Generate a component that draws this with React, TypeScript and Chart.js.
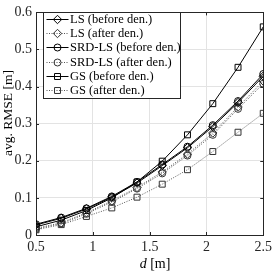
import React, { useEffect, useRef } from "react";
import { Chart, registerables } from "chart.js";

Chart.register(...registerables);

const dValues = [0.5, 0.722, 0.944, 1.167, 1.389, 1.611, 1.833, 2.056, 2.278, 2.5];
const lsBefore = [0.027, 0.045, 0.070, 0.102, 0.140, 0.187, 0.235, 0.292, 0.357, 0.428];
const lsAfter = [0.018, 0.033, 0.060, 0.092, 0.128, 0.170, 0.218, 0.275, 0.345, 0.415];
const srdBefore = [0.029, 0.047, 0.072, 0.104, 0.143, 0.190, 0.238, 0.296, 0.361, 0.434];
const srdAfter = [0.016, 0.031, 0.057, 0.089, 0.125, 0.166, 0.214, 0.270, 0.340, 0.408];
const gsBefore = [0.022, 0.040, 0.066, 0.100, 0.143, 0.199, 0.270, 0.354, 0.452, 0.561];
const gsAfter = [0.014, 0.028, 0.050, 0.073, 0.102, 0.137, 0.176, 0.225, 0.277, 0.328];
const seriesLabels = [
  "LS (before den.)",
  "LS (after den.)",
  "SRD-LS (before den.)",
  "SRD-LS (after den.)",
  "GS (before den.)",
  "GS (after den.)",
];
const xTicks = [0.5, 1, 1.5, 2, 2.5];
const yTicks = [0, 0.1, 0.2, 0.3, 0.4, 0.5, 0.6];

const FONT = "Liberation Serif";

function mk(label: string, data: number[], style: string, after: boolean) {
  return {
    label,
    data: data.map((v, i) => ({ x: dValues[i], y: v })),
    borderColor: after ? "#555" : "#000",
    borderWidth: 1,
    borderDash: after ? [1, 1.5] : [],
    pointStyle: style,
    pointRadius: style === "circle" ? 3.5 : 4.2,
    pointBorderColor: after ? "#333" : "#000",
    pointBackgroundColor: "rgba(0,0,0,0)",
    pointBorderWidth: 1,
    fill: false,
    tension: 0,
  };
}

function drawMarker(ctx: CanvasRenderingContext2D, style: string, r: number, x: number, y: number) {
  ctx.beginPath();
  if (style === "circle") {
    ctx.arc(x, y, r, 0, Math.PI * 2);
  } else if (style === "rect") {
    const s = r * Math.SQRT1_2;
    ctx.rect(x - s, y - s, 2 * s, 2 * s);
  } else {
    ctx.moveTo(x, y - r);
    ctx.lineTo(x + r, y);
    ctx.lineTo(x, y + r);
    ctx.lineTo(x - r, y);
    ctx.closePath();
  }
  ctx.stroke();
}

const framePlugin = {
  id: "frame",
  beforeDatasetsDraw(chart: any) {
    const { ctx, chartArea: a, scales } = chart;
    ctx.save();
    ctx.strokeStyle = "#262626";
    ctx.lineWidth = 1;
    const L = 3;
    xTicks.forEach((t) => {
      const x = Math.round(scales.x.getPixelForValue(t)) + 0.5;
      ctx.beginPath();
      ctx.moveTo(x, a.bottom);
      ctx.lineTo(x, a.bottom - L);
      ctx.moveTo(x, a.top);
      ctx.lineTo(x, a.top + L);
      ctx.stroke();
    });
    yTicks.forEach((t) => {
      const y = Math.round(scales.y.getPixelForValue(t)) + 0.5;
      ctx.beginPath();
      ctx.moveTo(a.left, y);
      ctx.lineTo(a.left + L, y);
      ctx.moveTo(a.right, y);
      ctx.lineTo(a.right - L, y);
      ctx.stroke();
    });
    ctx.strokeRect(Math.round(a.left) + 0.5, Math.round(a.top) + 0.5, Math.round(a.right - a.left), Math.round(a.bottom - a.top));
    ctx.restore();
  },
  afterDraw(chart: any) {
    const { ctx } = chart;
    ctx.save();
    ctx.fillStyle = "#000";
    ctx.textBaseline = "middle";
    ctx.textAlign = "left";
    const italic = `italic 14px "${FONT}"`;
    const normal = `14px "${FONT}"`;
    ctx.font = italic;
    const wd = ctx.measureText("d").width;
    ctx.font = normal;
    const wr = ctx.measureText(" [m]").width;
    const cx = 155;
    const sx = cx - (wd + wr) / 2;
    ctx.font = italic;
    ctx.fillText("d", sx, 264);
    ctx.font = normal;
    ctx.fillText(" [m]", sx + wd, 264);

    ctx.save();
    ctx.translate(8, 113);
    ctx.rotate(-Math.PI / 2);
    ctx.textAlign = "center";
    ctx.font = `13.5px "${FONT}"`;
    ctx.fillText("avg. RMSE [m]", 0, 0);
    ctx.restore();

    // legend
    const bx = 43.5, by = 12.5, bw = 137, bh = 86;
    ctx.fillStyle = "#fff";
    ctx.fillRect(bx, by, bw, bh);
    ctx.strokeStyle = "#262626";
    ctx.lineWidth = 1;
    ctx.setLineDash([]);
    ctx.strokeRect(bx, by, bw, bh);
    chart.data.datasets.forEach((ds: any, i: number) => {
      const y = Math.round(19 + i * 14.2) + 0.5;
      ctx.save();
      ctx.strokeStyle = ds.borderColor;
      ctx.lineWidth = ds.borderWidth;
      ctx.setLineDash(ds.borderDash);
      ctx.beginPath();
      ctx.moveTo(46.5, y);
      ctx.lineTo(68.5, y);
      ctx.stroke();
      ctx.setLineDash([]);
      ctx.strokeStyle = ds.pointBorderColor;
      ctx.lineWidth = 1;
      drawMarker(ctx, ds.pointStyle, ds.pointRadius, 57.5, y);
      ctx.restore();
      ctx.fillStyle = "#000";
      ctx.font = `12.5px "${FONT}"`;
      ctx.textAlign = "left";
      ctx.textBaseline = "middle";
      ctx.fillText(ds.label, 70, y);
    });
    ctx.restore();
  },
};

export default function App() {
  const ref = useRef<HTMLCanvasElement | null>(null);
  useEffect(() => {
    if (!ref.current) return;
    const chart = new Chart(ref.current, {
      type: "line",
      data: {
        datasets: [
          mk(seriesLabels[0], lsBefore, "rectRot", false),
          mk(seriesLabels[1], lsAfter, "rectRot", true),
          mk(seriesLabels[2], srdBefore, "circle", false),
          mk(seriesLabels[3], srdAfter, "circle", true),
          mk(seriesLabels[4], gsBefore, "rect", false),
          mk(seriesLabels[5], gsAfter, "rect", true),
        ] as any,
      },
      options: {
        animation: false,
        responsive: false,
        maintainAspectRatio: false,
        layout: { padding: { left: 0, right: 8, top: 5, bottom: 0 } },
        plugins: { legend: { display: false }, tooltip: { enabled: false } },
        scales: {
          x: {
            type: "linear",
            min: 0.5,
            max: 2.5,
            afterBuildTicks: (s: any) => {
              s.ticks = xTicks.map((v) => ({ value: v }));
            },
            afterFit: (s: any) => {
              s.height = 39;
            },
            ticks: {
              padding: 4,
              color: "#262626",
              font: { family: FONT, size: 14 },
              callback: (v: any) => String(v),
            },
            grid: { color: "#e3e3e3", drawTicks: false },
            border: { display: false },
          },
          y: {
            min: 0,
            max: 0.6,
            afterBuildTicks: (s: any) => {
              s.ticks = yTicks.map((v) => ({ value: v }));
            },
            afterFit: (s: any) => {
              s.width = 36;
            },
            ticks: {
              padding: 4,
              color: "#262626",
              font: { family: FONT, size: 14 },
              callback: (v: any) => String(Math.round(v * 10) / 10),
            },
            grid: { color: "#e3e3e3", drawTicks: false },
            border: { display: false },
          },
        },
      },
      plugins: [framePlugin],
    });
    return () => chart.destroy();
  }, []);
  return (
    <div style={{ position: "fixed", left: 0, top: 0, width: 276, height: 274, background: "#fff" }}>
      <canvas ref={ref} width={276} height={274} style={{ width: 276, height: 274 }} />
    </div>
  );
}
